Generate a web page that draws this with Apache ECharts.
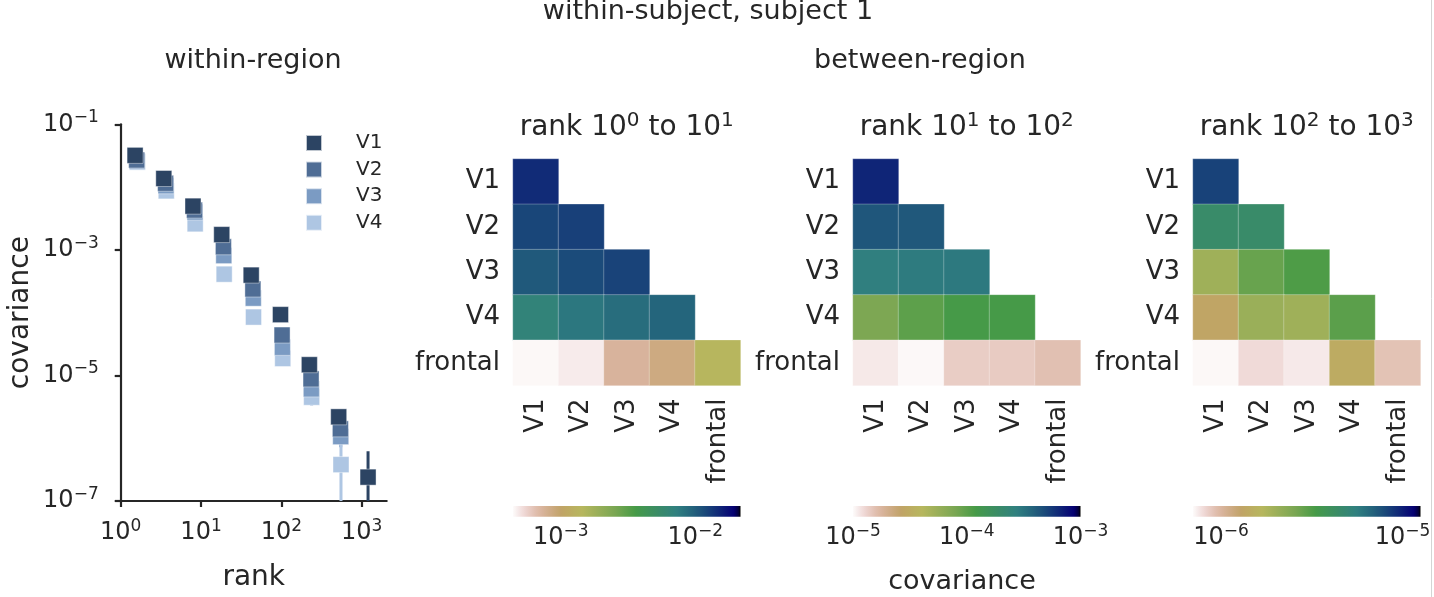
<!DOCTYPE html>
<html>
<head>
<meta charset="utf-8">
<script src="https://cdn.jsdelivr.net/npm/echarts@6/dist/echarts.min.js"></script>
<style>
html,body{margin:0;padding:0;background:#fff;}
#chart{width:1434px;height:597px;}
</style>
</head>
<body>
<div id="chart"></div>
<script>
// ---------------- data ----------------
const regions = ['V1', 'V2', 'V3', 'V4', 'frontal'];
const legendNames = ['V1', 'V2', 'V3', 'V4'];

// within-region: mean rank of each bin and covariance
const rankV1 = [1.51, 3.44, 7.94, 18.1, 42.1, 97.5, 223, 517, 1199];
const rankV2 = [1.58, 3.62, 8.3, 19.0, 44.2, 102, 234, 543, 1260];
const rankV3 = [1.6, 3.66, 8.4, 19.2, 44.7, 103, 236, 548, 1270];
const rankV4 = [1.61, 3.69, 8.45, 19.4, 45.0, 104, 238, 552, 1280];
const covV1 = [3.2e-2, 1.37e-2, 4.97e-3, 1.75e-3, 3.96e-4, 9.3e-5, 1.48e-5, 2.19e-6, 2.4e-7];
const covV2 = [2.7e-2, 1.15e-2, 4.3e-3, 1.12e-3, 2.38e-4, 4.4e-5, 8.8e-6, 1.41e-6, null];
const covV3 = [2.6e-2, 1.05e-2, 4.0e-3, 8.1e-4, 1.7e-4, 2.8e-5, 6.1e-6, 1.06e-6, null];
const covV4 = [2.5e-2, 8.7e-3, 2.6e-3, 4.1e-4, 8.5e-5, 1.86e-5, 4.5e-6, 3.8e-7, null];
// error bars: [region, rank, low, high]
const errBars = [
  ['V4', 238, 3.3e-6, 6.0e-6],
  ['V3', 548, 7.2e-7, 1.5e-6],
  ['V4', 552, 5e-8, 9.0e-7],
  ['V1', 1199, 5e-8, 6.2e-7]
];
const scatterXTicks = [0, 1, 2, 3];
const scatterYTicks = [-7, -5, -3, -1];

// between-region covariance matrices (lower triangle, rows V1..frontal)
const cov10to1 = [
  [1.47e-2],
  [1.21e-2, 1.26e-2],
  [1.04e-2, 1.16e-2, 1.23e-2],
  [6.7e-3, 7.9e-3, 8.7e-3, 9.4e-3],
  [4.5e-4, 4.8e-4, 7.3e-4, 8.6e-4, 1.42e-3]
];
const cov10to2 = [
  [6.6e-4],
  [4.3e-4, 4.2e-4],
  [2.75e-4, 2.9e-4, 2.95e-4],
  [7.6e-5, 1.0e-4, 1.2e-4, 1.2e-4],
  [1.12e-5, 1.02e-5, 1.38e-5, 1.41e-5, 1.55e-5]
];
const cov10to3 = [
  [8.3e-6],
  [4.5e-6, 4.5e-6],
  [1.98e-6, 2.8e-6, 3.2e-6],
  [1.32e-6, 2.04e-6, 1.98e-6, 3.0e-6],
  [7.1e-7, 8.0e-7, 7.5e-7, 1.44e-6, 9.1e-7]
];
// colour-scale ranges (covariance) and their tick exponents
const cbRange1 = [4.42e-4, 2.17e-2];
const cbRange2 = [1e-5, 1e-3];
const cbRange3 = [7.0e-7, 1.256e-5];
const cbTicks1 = [-3, -2];
const cbTicks2 = [-5, -4, -3];
const cbTicks3 = [-6, -5];
const panelExps = [[0, 1], [1, 2], [2, 3]];

// ---------------- style ----------------
const FONT = 'DejaVu Sans';
const TXT = '#262626';
const seriesColors = {V1: '#2c4463', V2: '#4f6d95', V3: '#7b9bc3', V4: '#aec6e3'};

// gist_earth colormap segments
const GE_R = [[0,0],[0.2824,0.1882],[0.4588,0.2714],[0.5490,0.4719],[0.6980,0.7176],[0.7882,0.7553],[1,0.9922]];
const GE_G = [[0,0],[0.0275,0],[0.1098,0.1893],[0.1647,0.3035],[0.2078,0.3841],[0.2824,0.5020],[0.5216,0.6397],[0.6980,0.7171],[0.7882,0.6392],[0.8157,0.6549],[0.8667,0.6991],[0.8980,0.7430],[0.9412,0.8275],[0.9647,0.8816],[0.9961,0.9733],[1,0.9843]];
const GE_B = [[0,0],[0.0039,0.1684],[0.0078,0.2212],[0.0275,0.4329],[0.0314,0.4549],[0.2824,0.5004],[0.4667,0.2748],[0.5451,0.3205],[0.7843,0.3961],[0.8941,0.6651],[1,0.9843]];
function seg(tab, s) {
  for (let i = 1; i < tab.length; i++) {
    if (s <= tab[i][0]) {
      const a = tab[i-1], b = tab[i];
      return a[1] + (b[1]-a[1]) * (s - a[0]) / (b[0] - a[0]);
    }
  }
  return tab[tab.length-1][1];
}
function gistEarthR(x) { // reversed
  const s = 1 - x;
  const c = [seg(GE_R, s), seg(GE_G, s), seg(GE_B, s)].map(v => Math.round(v * 255));
  return 'rgb(' + c.join(',') + ')';
}
const cmapColors = [];
for (let i = 0; i <= 100; i++) cmapColors.push(gistEarthR(i / 100));
const cmapStops = cmapColors.map((c, i) => ({offset: i / 100, color: c}));

const lg = Math.log10;
const supFmt = (v) => '{b|10}{s|' + (v < 0 ? '\u2212' + (-v) : v) + '}';
const tickRich = {
  b: {fontFamily: FONT, fontSize: 24, lineHeight: 30, color: TXT},
  s: {fontFamily: FONT, fontSize: 17, lineHeight: 21, color: TXT, verticalAlign: 'top'}
};

// ---------------- layout ----------------
const hmLeft = [513, 853, 1193];
const hmW = 227.5, hmTop = 159, hmH = 226.5;
const cbTop = 506, cbH = 10.7;

const grids = [{left: 120.7, top: 124.3, width: 266, height: 380.7}];
hmLeft.forEach(l => grids.push({left: l, top: hmTop, width: hmW, height: hmH}));
hmLeft.forEach(l => grids.push({left: l, top: cbTop, width: hmW, height: cbH}));

const axisLineStyle = {color: TXT, width: 2.2};
const xAxes = [{
  type: 'value', gridIndex: 0, min: 0, max: 3.311,
  name: 'rank', nameLocation: 'middle', nameGap: 63,
  nameTextStyle: {fontFamily: FONT, fontSize: 28, color: TXT},
  axisLine: {show: true, onZero: false, lineStyle: axisLineStyle},
  axisTick: {show: true, length: 6, lineStyle: axisLineStyle, customValues: scatterXTicks},
  axisLabel: {customValues: scatterXTicks, margin: 17, formatter: supFmt, rich: tickRich},
  splitLine: {show: false}
}];
const yAxes = [{
  type: 'value', gridIndex: 0, min: -7, max: -1,
  name: 'covariance', nameLocation: 'middle', nameGap: 86,
  nameTextStyle: {fontFamily: FONT, fontSize: 28, color: TXT},
  axisLine: {show: true, onZero: false, lineStyle: axisLineStyle},
  axisTick: {show: true, length: 6, lineStyle: axisLineStyle, customValues: scatterYTicks},
  axisLabel: {customValues: scatterYTicks, margin: 22, formatter: supFmt, rich: tickRich},
  splitLine: {show: false}
}];
for (let i = 0; i < 3; i++) {
  xAxes.push({
    type: 'category', gridIndex: 1 + i, data: regions,
    axisLine: {show: false}, axisTick: {show: false}, splitLine: {show: false},
    axisLabel: {rotate: 90, margin: 13, fontFamily: FONT, fontSize: 26, color: TXT, interval: 0}
  });
  yAxes.push({
    type: 'category', gridIndex: 1 + i, data: regions, inverse: true,
    axisLine: {show: false}, axisTick: {show: false}, splitLine: {show: false},
    axisLabel: {margin: 13, fontFamily: FONT, fontSize: 26, color: TXT, interval: 0}
  });
}
const cbRanges = [cbRange1, cbRange2, cbRange3];
const cbTicks = [cbTicks1, cbTicks2, cbTicks3];
for (let i = 0; i < 3; i++) {
  xAxes.push({
    type: 'value', gridIndex: 4 + i, min: lg(cbRanges[i][0]), max: lg(cbRanges[i][1]),
    axisLine: {show: false}, axisTick: {show: false}, splitLine: {show: false},
    axisLabel: {customValues: cbTicks[i], margin: 6, formatter: supFmt, rich: tickRich, showMinLabel: true, showMaxLabel: true}
  });
  yAxes.push({type: 'value', gridIndex: 4 + i, min: 0, max: 1, show: false});
}

// ---------------- series ----------------
const series = [];
const scatterSets = {V1: [rankV1, covV1], V2: [rankV2, covV2], V3: [rankV3, covV3], V4: [rankV4, covV4]};
const colorOrder = legendNames;
series.push({
  type: 'custom', xAxisIndex: 0, yAxisIndex: 0, clip: true, z: 1, silent: true,
  data: errBars.map(e => [lg(e[1]), lg(e[2]), lg(e[3]), colorOrder.indexOf(e[0])]),
  renderItem: (params, api) => {
    const p1 = api.coord([api.value(0), api.value(1)]);
    const p2 = api.coord([api.value(0), api.value(2)]);
    return {type: 'line', shape: {x1: p1[0], y1: p1[1], x2: p2[0], y2: p2[1]},
      style: {stroke: seriesColors[colorOrder[api.value(3)]], lineWidth: 3}};
  }
});
['V4', 'V3', 'V2', 'V1'].forEach((name, k) => {
  const [xs, ys] = scatterSets[name];
  series.push({
    name, type: 'scatter', xAxisIndex: 0, yAxisIndex: 0, z: 2 + k,
    symbol: 'rect', symbolSize: 16,
    itemStyle: {color: seriesColors[name], opacity: 1, borderColor: 'rgba(255,255,255,0.7)', borderWidth: 0.6},
    data: xs.map((x, i) => ys[i] == null ? null : [lg(x), lg(ys[i])]).filter(d => d)
  });
});
const mats = [cov10to1, cov10to2, cov10to3];
const heatIdx = [];
mats.forEach((m, i) => {
  const data = [];
  m.forEach((row, r) => row.forEach((v, c) => data.push([c, r, lg(v)])));
  heatIdx.push(series.length);
  series.push({
    type: 'heatmap', xAxisIndex: 1 + i, yAxisIndex: 1 + i, data,
    itemStyle: {borderColor: 'rgba(255,255,255,0.35)', borderWidth: 0.8},
    emphasis: {disabled: true}
  });
});
cbRanges.forEach((r, i) => {
  series.push({
    type: 'custom', xAxisIndex: 4 + i, yAxisIndex: 4 + i, silent: true,
    data: [[lg(r[0]), lg(r[1])]],
    renderItem: (params, api) => {
      const p1 = api.coord([api.value(0), 1]);
      const p2 = api.coord([api.value(1), 0]);
      return {type: 'rect', shape: {x: p1[0], y: p1[1], width: p2[0] - p1[0], height: p2[1] - p1[1]},
        style: {fill: {type: 'linear', x: 0, y: 0, x2: 1, y2: 0, colorStops: cmapStops}}};
    }
  });
});

const visualMaps = mats.map((m, i) => ({
  type: 'continuous', show: false, seriesIndex: heatIdx[i], dimension: 2,
  min: lg(cbRanges[i][0]), max: lg(cbRanges[i][1]), inRange: {color: cmapColors}
}));

// ---------------- texts ----------------
const titleRich = {
  a: {fontFamily: FONT, fontSize: 28, lineHeight: 34, fill: TXT, color: TXT},
  s: {fontFamily: FONT, fontSize: 20, lineHeight: 24, fill: TXT, color: TXT, verticalAlign: 'top'}
};
const graphics = [
  {type: 'text', x: 708, y: 11.5, style: {text: 'within-subject, subject 1', fontFamily: FONT, fontSize: 27, fill: TXT, align: 'center', verticalAlign: 'middle'}},
  {type: 'text', x: 253, y: 61, style: {text: 'within-region', fontFamily: FONT, fontSize: 27, fill: TXT, align: 'center', verticalAlign: 'middle'}},
  {type: 'text', x: 920, y: 61, style: {text: 'between-region', fontFamily: FONT, fontSize: 27, fill: TXT, align: 'center', verticalAlign: 'middle'}},
  {type: 'text', x: 962, y: 582, style: {text: 'covariance', fontFamily: FONT, fontSize: 27, fill: TXT, align: 'center', verticalAlign: 'middle'}},
  {type: 'line', shape: {x1: 1431.5, y1: 0, x2: 1431.5, y2: 597}, style: {stroke: '#d4d4d4', lineWidth: 1}}
];
panelExps.forEach((e, i) => {
  graphics.push({type: 'text', x: hmLeft[i] + hmW / 2, y: 127.5, style: {
    text: '{a|rank 10}{s|' + e[0] + '}{a| to 10}{s|' + e[1] + '}', rich: titleRich,
    fontFamily: FONT, fontSize: 28, fill: TXT, align: 'center', verticalAlign: 'middle'}});
});

const chart = echarts.init(document.getElementById('chart'), null, {renderer: 'canvas'});
chart.setOption({
  animation: false,
  backgroundColor: '#ffffff',
  textStyle: {fontFamily: FONT, color: TXT},
  grid: grids,
  xAxis: xAxes,
  yAxis: yAxes,
  visualMap: visualMaps,
  legend: {
    data: legendNames, orient: 'vertical', left: 300, top: 128,
    itemWidth: 16, itemHeight: 16, itemGap: 6.6, icon: 'rect',
    textStyle: {fontFamily: FONT, fontSize: 20, color: TXT, lineHeight: 16, padding: [0, 0, 0, 29]}
  },
  series,
  graphic: graphics
});
</script>
</body>
</html>
